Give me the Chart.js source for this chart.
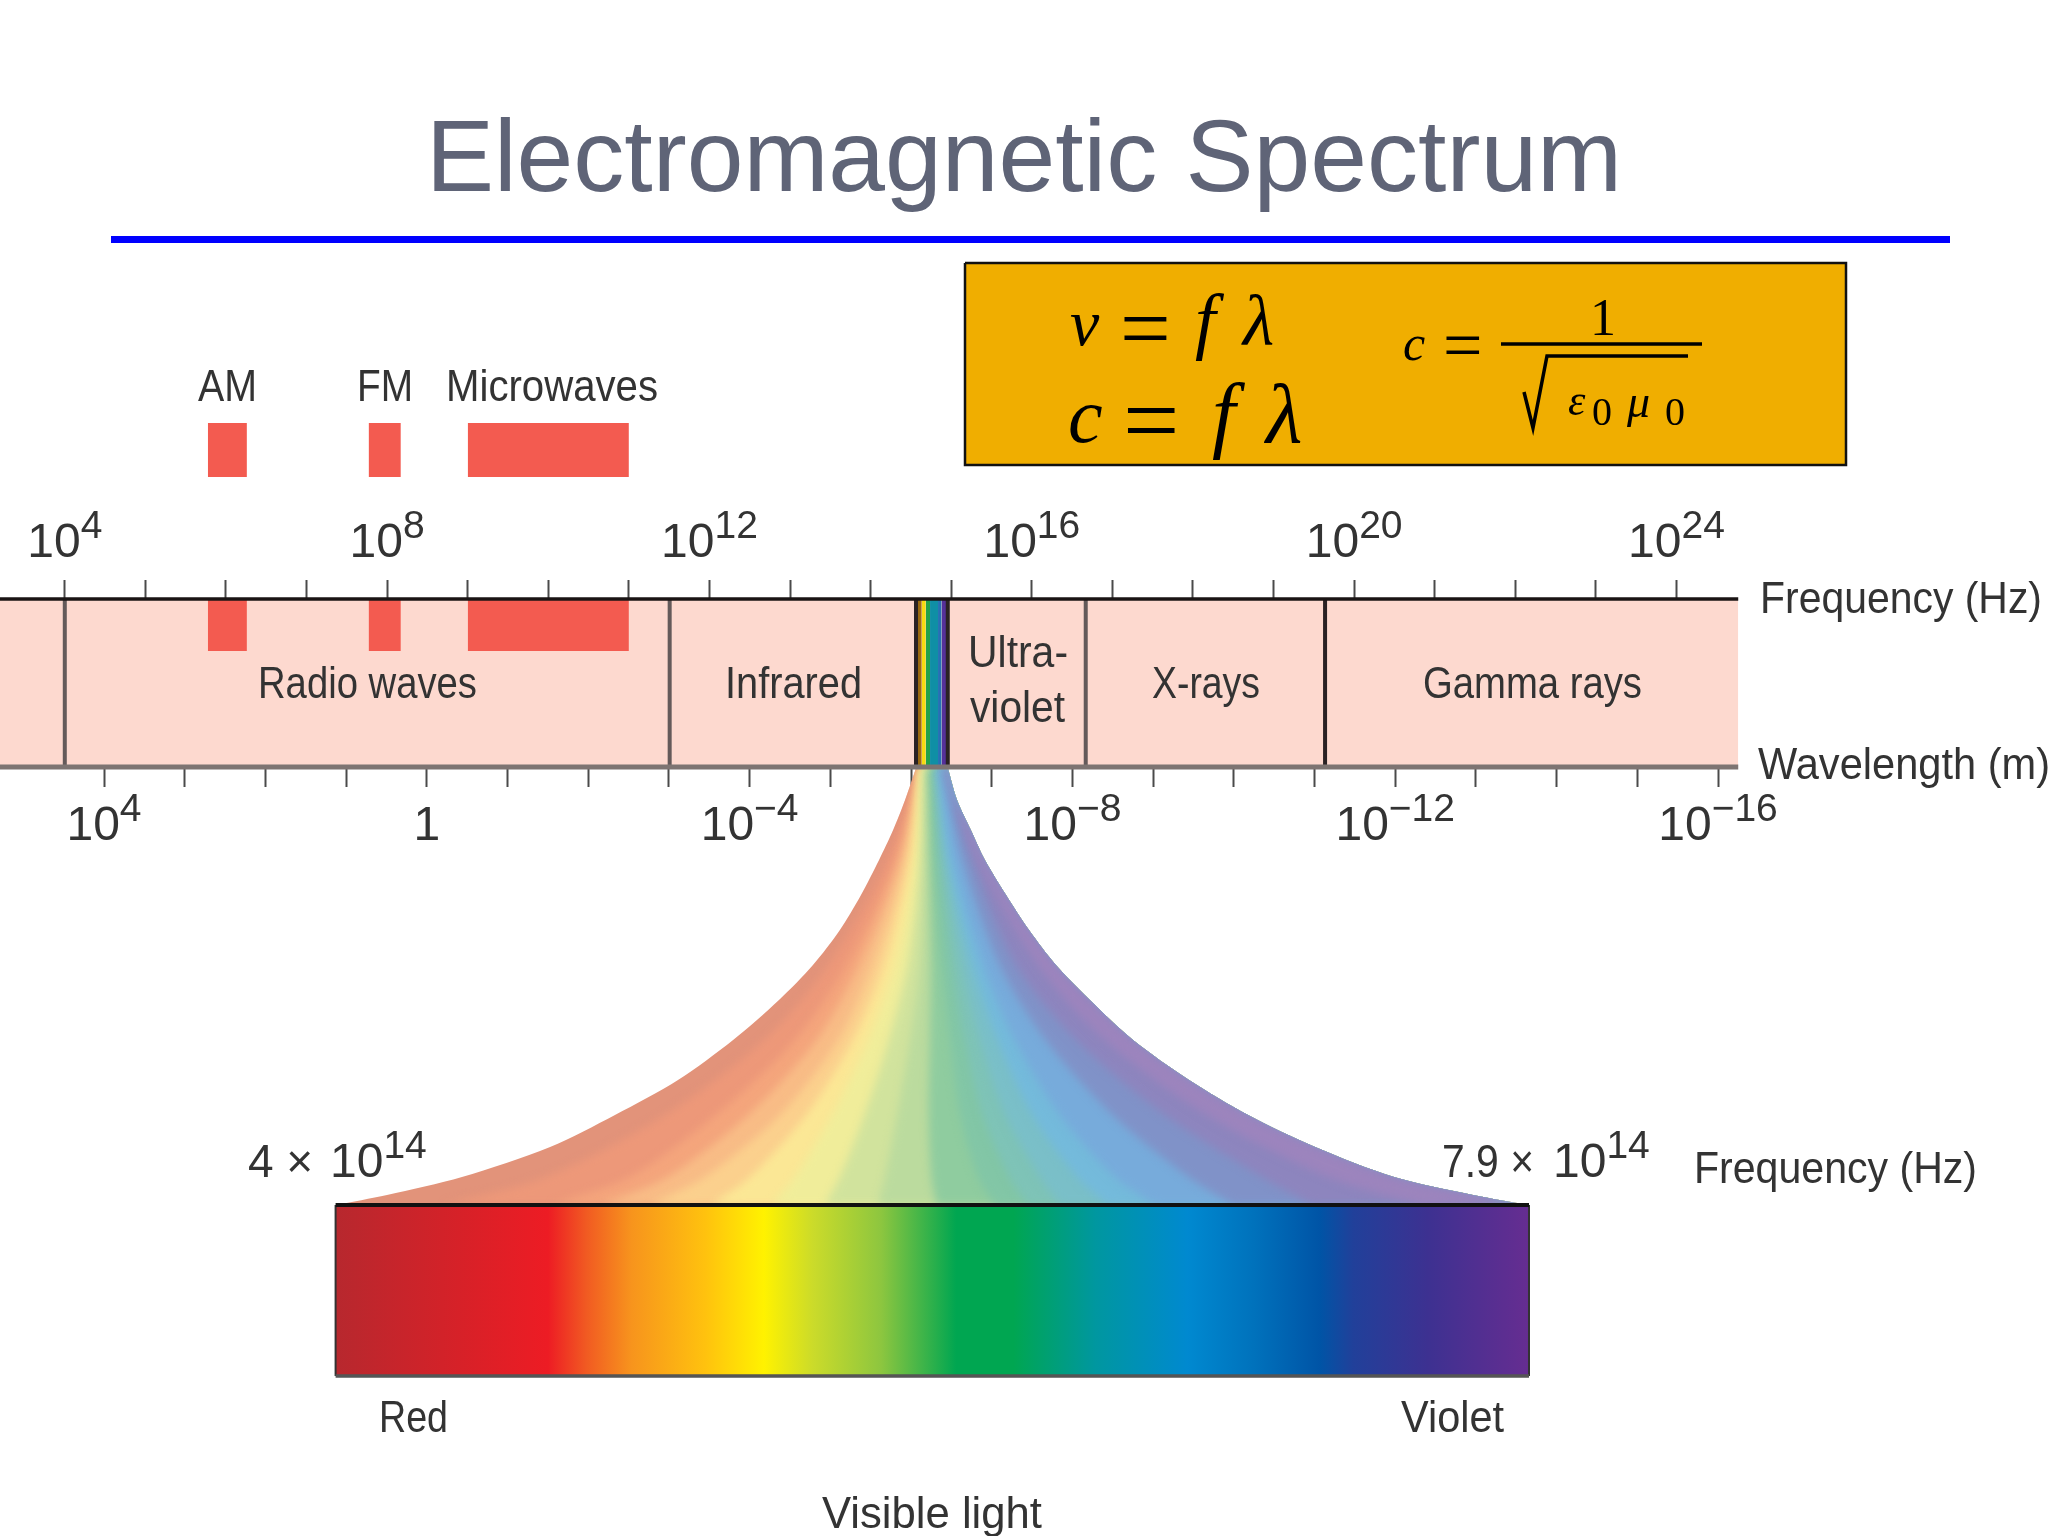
<!DOCTYPE html>
<html>
<head>
<meta charset="utf-8">
<title>Electromagnetic Spectrum</title>
<script src="https://cdn.jsdelivr.net/npm/chart.js@4"></script>
<style>
  body { margin: 0; background: #fff; }
  canvas { display: block; }
</style>
</head>
<body>
<canvas id="spectrum" width="2048" height="1536"></canvas>
<script>
// ---- data: everything on the main axis is log10(frequency in Hz) ----
const freqTicks = [4,5,6,7,8,9,10,11,12,13,14,15,16,17,18,19,20,21,22,23,24];
const freqLabelPowers = [4,8,12,16,20,24];
const waveTicks = [4,3,2,1,0,-1,-2,-3,-4,-5,-6,-7,-8,-9,-10,-11,-12,-13,-14,-15,-16];
const waveLabelPowers = [4,0,-4,-8,-12,-16];

const bandEdges = [4.0, 11.506, 14.563, 14.957, 16.669, 19.639];
const bandEnd = 24.766;
const radioNames = ['AM', 'FM', 'Microwaves'];
const radioFrom = [5.775, 7.77, 9.0];
const radioTo = [6.26, 8.17, 11.0];
const bandNames = ['Radio waves', 'Infrared', 'Ultra-', 'violet', 'X-rays', 'Gamma rays'];

// narrow visible slice inside the band row
const sliceEdges = [14.563, 14.634, 14.684, 14.737, 14.836, 14.882, 14.957];
const sliceColors = ['#9a6a10', '#f5dc10', '#21a24a', '#0f8fa5', '#2570b5', '#55309a'];

// visible light bar, frequency in units of 10^14 Hz
const visibleFrom = 4;
const visibleTo = 7.9;
const visibleStops = [0, 0.178, 0.21, 0.248, 0.31, 0.359, 0.40, 0.457, 0.52, 0.568, 0.637, 0.714, 0.769, 0.825, 0.853, 0.915, 1];
const visibleColors = ['#b7282e', '#ed1c24', '#f15a22', '#f7941d', '#ffc20e', '#fff200', '#cbdb2a', '#8dc63f', '#00a651', '#00a651', '#0097a0', '#0089d0', '#0072bc', '#0054a6', '#21409a', '#3d3191', '#662d91'];

// the fan between the slice and the bar, 10^14 Hz units
const fanEdgeLevels = [768, 800, 830, 860, 895, 930, 965, 1000, 1040, 1080, 1115, 1147, 1177, 1195, 1205];
const fanLeft = [5.897, 5.861, 5.822, 5.776, 5.717, 5.648, 5.560, 5.449, 5.299, 5.119, 4.913, 4.701, 4.413, 4.168, 4.0];
const fanRight = [6.001, 6.031, 6.076, 6.122, 6.191, 6.266, 6.354, 6.465, 6.606, 6.789, 6.982, 7.201, 7.459, 7.717, 7.9];
const fanInnerLevels = [768, 860, 965, 1040, 1115, 1177, 1205];
const fanInner = [
  [5.902, 5.802, 5.611, 5.400, 5.078, 4.688, 4.354],
  [5.907, 5.828, 5.668, 5.501, 5.243, 4.962, 4.707],
  [5.908, 5.844, 5.710, 5.572, 5.348, 5.085, 4.867],
  [5.910, 5.861, 5.753, 5.642, 5.452, 5.207, 5.027],
  [5.911, 5.877, 5.791, 5.691, 5.537, 5.354, 5.227],
  [5.913, 5.893, 5.828, 5.740, 5.622, 5.501, 5.426],
  [5.921, 5.910, 5.869, 5.808, 5.728, 5.648, 5.599],
  [5.929, 5.926, 5.910, 5.877, 5.835, 5.795, 5.773],
  [5.939, 5.942, 5.946, 5.942, 5.938, 5.947, 5.964],
  [5.949, 5.959, 5.982, 6.008, 6.041, 6.099, 6.155],
  [5.956, 5.974, 6.014, 6.057, 6.114, 6.201, 6.261],
  [5.962, 5.988, 6.047, 6.106, 6.188, 6.302, 6.367],
  [5.969, 6.003, 6.081, 6.163, 6.277, 6.424, 6.523],
  [5.975, 6.018, 6.116, 6.220, 6.367, 6.547, 6.678],
  [5.983, 6.049, 6.170, 6.320, 6.539, 6.787, 6.934],
  [5.992, 6.080, 6.224, 6.420, 6.710, 7.027, 7.191],
  [5.996, 6.101, 6.294, 6.513, 6.846, 7.243, 7.545]
];
const fanColors = ['#e2937a', '#ed9879', '#f4a57c', '#f8bc86', '#fbd08d', '#fbe795', '#f0ed9a', '#d1e39d', '#bbdb9e',
  '#8fcc9f', '#82c6a6', '#7ec3b7', '#7abfc8', '#74badb', '#77abdb', '#8092c8', '#8d85be', '#9c84bd'];

// ---- layout of the slide (hidden y axis runs 230..1536 top to bottom) ----
const Y = { rule: 239.5, boxTop: 263, boxBottom: 465, radioTop: 423, radioTopEnd: 477, freqTickTop: 580,
  bandTop: 599, bandRadioEnd: 651, bandBottom: 767, barTop: 1205, barBottom: 1376 };
const TEXT = '#333333';
const SANS = '"Liberation Sans", Arial, sans-serif';
const SERIF = '"Liberation Serif", serif';

const sansLabels = [
  [radioNames[0], 198, 401, 59], [radioNames[1], 357, 401, 56], [radioNames[2], 446, 401, 212],
  [bandNames[0], 258, 698, 219], [bandNames[1], 725, 698, 137], [bandNames[2], 968, 667, 100],
  [bandNames[3], 970, 722, 95], [bandNames[4], 1152, 698, 108], [bandNames[5], 1423, 698, 219],
  ['Frequency (Hz)', 1760, 613, 282], ['Wavelength (m)', 1758, 779, 292],
  ['Frequency (Hz)', 1694, 1183, 283], ['Red', 379, 1432, 69], ['Violet', 1401, 1432, 103],
  ['Visible light', 822, 1528, 220]
];
// text, x, baseline, size, italic
const equationParts = [
  ['v', 1070, 345, 66, true], ['=', 1120, 359, 90, false], ['f', 1195, 345, 74, true], ['\u03bb', 1243, 345, 72, true],
  ['c', 1068, 442, 78, true], ['=', 1123, 454, 100, false], ['f', 1212, 442, 84, true], ['\u03bb', 1266, 442, 84, true],
  ['c', 1403, 360, 50, true], ['=', 1443, 369, 70, false], ['1', 1590, 335, 52, false],
  ['\u03b5', 1568, 415, 44, true], ['0', 1592, 425, 40, false], ['\u03bc', 1627, 417, 46, true], ['0', 1665, 425, 40, false]
];
const radicalX = [1524, 1533, 1547, 1688];
const radicalY = [392, 428, 356, 356];

const XMIN = 3.196, XMAX = 28.61;

// ---- helpers ----
function hline(axis, x1, x2, y, color, width, order) {
  return { xAxisID: axis, data: [{ x: x1, y: y }, { x: x2, y: y }], borderColor: color, borderWidth: width, order: order };
}
function vline(axis, x, y1, y2, color, width, order) {
  return { xAxisID: axis, data: [{ x: x, y: y1 }, { x: x, y: y2 }], borderColor: color, borderWidth: width, order: order };
}
function block(axis, x1, x2, y1, y2, color, order) {
  return { xAxisID: axis, data: [{ x: x1, y: y1 }, { x: x2, y: y1 }], borderWidth: 0, backgroundColor: color, fill: { value: y2 }, order: order };
}
function fanCurve(values, levels, color, fill, order) {
  return { xAxisID: 'xVis', indexAxis: 'y', data: values.map((v, i) => ({ x: v, y: levels[i] })),
    borderWidth: 0, backgroundColor: color, fill: fill, tension: 0.3, order: order };
}
function visibleGradient(context) {
  const chart = context.chart;
  const sc = chart.scales.xVis;
  if (!sc) return '#ffffff';
  const x0 = sc.getPixelForValue(visibleFrom), x1 = sc.getPixelForValue(visibleTo);
  // the first pass runs before layout, scale has no size yet
  if (!isFinite(x0) || !isFinite(x1)) return '#ffffff';
  const g = chart.ctx.createLinearGradient(x0, 0, x1, 0);
  visibleStops.forEach((s, i) => g.addColorStop(s, visibleColors[i]));
  return g;
}

// ---- datasets ----
const datasets = [];
datasets.push(hline('xRef', 111, 1950, Y.rule, '#0000ff', 7, 1));

// equation box
datasets.push(block('xRef', 965, 1846, Y.boxTop, Y.boxBottom, '#f0ae00', 7));
datasets.push({ xAxisID: 'xRef', borderColor: '#111111', borderWidth: 2.5, order: 2,
  data: [{ x: 965, y: Y.boxTop }, { x: 1846, y: Y.boxTop }, { x: 1846, y: Y.boxBottom }, { x: 965, y: Y.boxBottom }, { x: 965, y: Y.boxTop }] });
datasets.push(hline('xRef', 1501, 1702, 344, '#000000', 3.5, 1));
datasets.push({ xAxisID: 'xRef', borderColor: '#000000', borderWidth: 3.5, order: 1,
  data: radicalX.map((x, i) => ({ x: x, y: radicalY[i] })) });

// band row
datasets.push(block('x', XMIN, bandEnd, Y.bandTop, Y.bandBottom, '#fdd9cf', 9));
radioFrom.forEach((from, i) => {
  datasets.push(block('x', from, radioTo[i], Y.radioTop, Y.radioTopEnd, '#f35b50', 6));
  datasets.push(block('x', from, radioTo[i], Y.bandTop, Y.bandRadioEnd, '#f35b50', 6));
});
sliceColors.forEach((c, i) => {
  datasets.push(block('x', sliceEdges[i], sliceEdges[i + 1], Y.bandTop, Y.bandBottom, c, 5));
});
bandEdges.forEach((e, i) => {
  const dark = i === 2 || i === 3 || i === 5;
  datasets.push(vline('x', e, Y.bandTop, Y.bandBottom, dark ? '#2a2224' : '#645a5a', 4, 3));
});
datasets.push(hline('x', XMIN, bandEnd, Y.bandTop, '#1a1414', 3.5, 2));
datasets.push(hline('x', XMIN, bandEnd, Y.bandBottom, '#7d7472', 5, 2));

// visible bar
datasets.push(block('xVis', visibleFrom, visibleTo, Y.barTop, Y.barBottom, visibleGradient, 7));
datasets.push(hline('xVis', visibleFrom, visibleTo, Y.barTop, '#111111', 4, 2));
datasets.push(hline('xVis', visibleFrom, visibleTo, Y.barBottom, '#555555', 3.5, 2));
datasets.push(vline('xVis', visibleFrom, Y.barTop, Y.barBottom, '#333333', 2, 2));
datasets.push(vline('xVis', visibleTo, Y.barTop, Y.barBottom, '#333333', 2, 2));

// fan: each curve fills all the way to the right edge, painted left to right so no seams
const fanStart = datasets.length;
const fanEnd = fanStart + fanInner.length + 1;
datasets.push(fanCurve(fanLeft, fanEdgeLevels, fanColors[0], fanEnd, 40));
fanInner.forEach((curve, i) => {
  datasets.push(fanCurve(curve, fanInnerLevels, fanColors[i + 1], fanEnd, 39 - i));
});
datasets.push(fanCurve(fanRight, fanEdgeLevels, '#a484bd', false, 20));

// soft colour steps inside the fan, outer edges stay sharp
const fanSoften = {
  id: 'fanSoften',
  beforeDatasetDraw(chart, args) {
    if (args.index <= fanStart || args.index >= fanEnd) return;
    const ctx = chart.ctx;
    const left = chart.getDatasetMeta(fanStart).dataset;
    const right = chart.getDatasetMeta(fanEnd).dataset;
    const seg = { start: 0, end: fanEdgeLevels.length - 1, loop: false };
    ctx.save();
    ctx.beginPath();
    left.pathSegment(ctx, seg, { move: true });
    right.pathSegment(ctx, seg, { move: false, reverse: true });
    ctx.closePath();
    ctx.clip();
    ctx.filter = 'blur(4px)';
  },
  afterDatasetDraw(chart, args) {
    if (args.index <= fanStart || args.index >= fanEnd) return;
    chart.ctx.restore();
  }
};
// has to run before the filler does its painting
Chart.unregister(Chart.Filler);
Chart.register(fanSoften, Chart.Filler);

// ---- text on top of the marks ----
function drawPower(ctx, left, baseline, exp) {
  ctx.textAlign = 'left';
  ctx.font = '48px ' + SANS;
  ctx.fillText('10', left, baseline);
  const w = ctx.measureText('10').width;
  ctx.font = '39px ' + SANS;
  ctx.fillText(exp, left + w, baseline - 19);
}
function powerWidth(ctx, exp) {
  ctx.font = '48px ' + SANS;
  const w = ctx.measureText('10').width;
  ctx.font = '39px ' + SANS;
  return w + ctx.measureText(exp).width;
}
function expText(p) {
  return p < 0 ? '\u2212' + (-p) : String(p);
}

const slideText = {
  id: 'slideText',
  afterDatasetsDraw(chart) {
    const ctx = chart.ctx;
    const sx = chart.scales.x, sw = chart.scales.xWave;
    ctx.save();
    ctx.fillStyle = TEXT;
    ctx.textBaseline = 'alphabetic';
    ctx.textAlign = 'left';

    ctx.font = '44px ' + SANS;
    sansLabels.forEach(l => ctx.fillText(l[0], l[1], l[2], l[3]));

    freqLabelPowers.forEach(p => {
      const e = expText(p);
      drawPower(ctx, sx.getPixelForValue(p) - powerWidth(ctx, e) / 2, 557, e);
    });
    waveLabelPowers.forEach(p => {
      const px = sw.getPixelForValue(p);
      if (p === 0) {
        ctx.font = '48px ' + SANS;
        ctx.textAlign = 'center';
        ctx.fillText('1', px, 840);
        ctx.textAlign = 'left';
        return;
      }
      const e = expText(p);
      drawPower(ctx, px - powerWidth(ctx, e) / 2, 840, e);
    });

    ctx.font = '46px ' + SANS;
    ctx.fillText('4 \u00d7', 248, 1177, 72);
    ctx.fillText('7.9 \u00d7', 1442, 1177, 92);
    drawPower(ctx, 330, 1177, '14');
    drawPower(ctx, 1553, 1177, '14');

    ctx.fillStyle = '#000000';
    equationParts.forEach(p => {
      ctx.font = (p[4] ? 'italic ' : '') + p[3] + 'px ' + SERIF;
      ctx.fillText(p[0], p[1], p[2]);
    });
    ctx.restore();
  }
};

new Chart(document.getElementById('spectrum').getContext('2d'), {
  type: 'line',
  data: { datasets: datasets },
  plugins: [slideText],
  options: {
    responsive: false,
    devicePixelRatio: 1,
    animation: false,
    events: [],
    parsing: { xAxisKey: 'x', yAxisKey: 'y' },
    elements: { point: { radius: 0 } },
    plugins: {
      legend: { display: false },
      tooltip: { enabled: false },
      title: {
        display: true,
        text: 'Electromagnetic Spectrum',
        color: '#5f6477',
        font: { family: SANS, size: 102, weight: 'normal', lineHeight: 1.2 },
        padding: { top: 102, bottom: 5.6 }
      }
    },
    scales: {
      y: { type: 'linear', reverse: true, min: 230, max: 1536, display: false },
      x: {
        type: 'linear', axis: 'x', min: XMIN, max: XMAX, position: { y: Y.freqTickTop },
        afterBuildTicks: axis => { axis.ticks = freqTicks.map(v => ({ value: v })); },
        ticks: { display: false, autoSkip: false },
        border: { display: false },
        grid: { drawOnChartArea: false, tickLength: 19, tickWidth: 2, color: '#4a4a4a' }
      },
      xWave: {
        type: 'linear', axis: 'x', reverse: true, min: -20.089, max: 5.289, position: { y: Y.bandBottom },
        afterBuildTicks: axis => { axis.ticks = waveTicks.map(v => ({ value: v })); },
        ticks: { display: false, autoSkip: false },
        border: { display: false },
        grid: { drawOnChartArea: false, tickLength: 20, tickWidth: 2, color: '#4a4a4a' }
      },
      // same canvas width, in units of 10^14 Hz so that 4 and 7.9 land on the bar ends
      xVis: { type: 'linear', axis: 'x', min: 2.9033, max: 9.5961, display: false },
      // plain slide position, only for the rule and the equation box
      xRef: { type: 'linear', axis: 'x', min: 0, max: 2048, display: false }
    }
  }
});
</script>
</body>
</html>
